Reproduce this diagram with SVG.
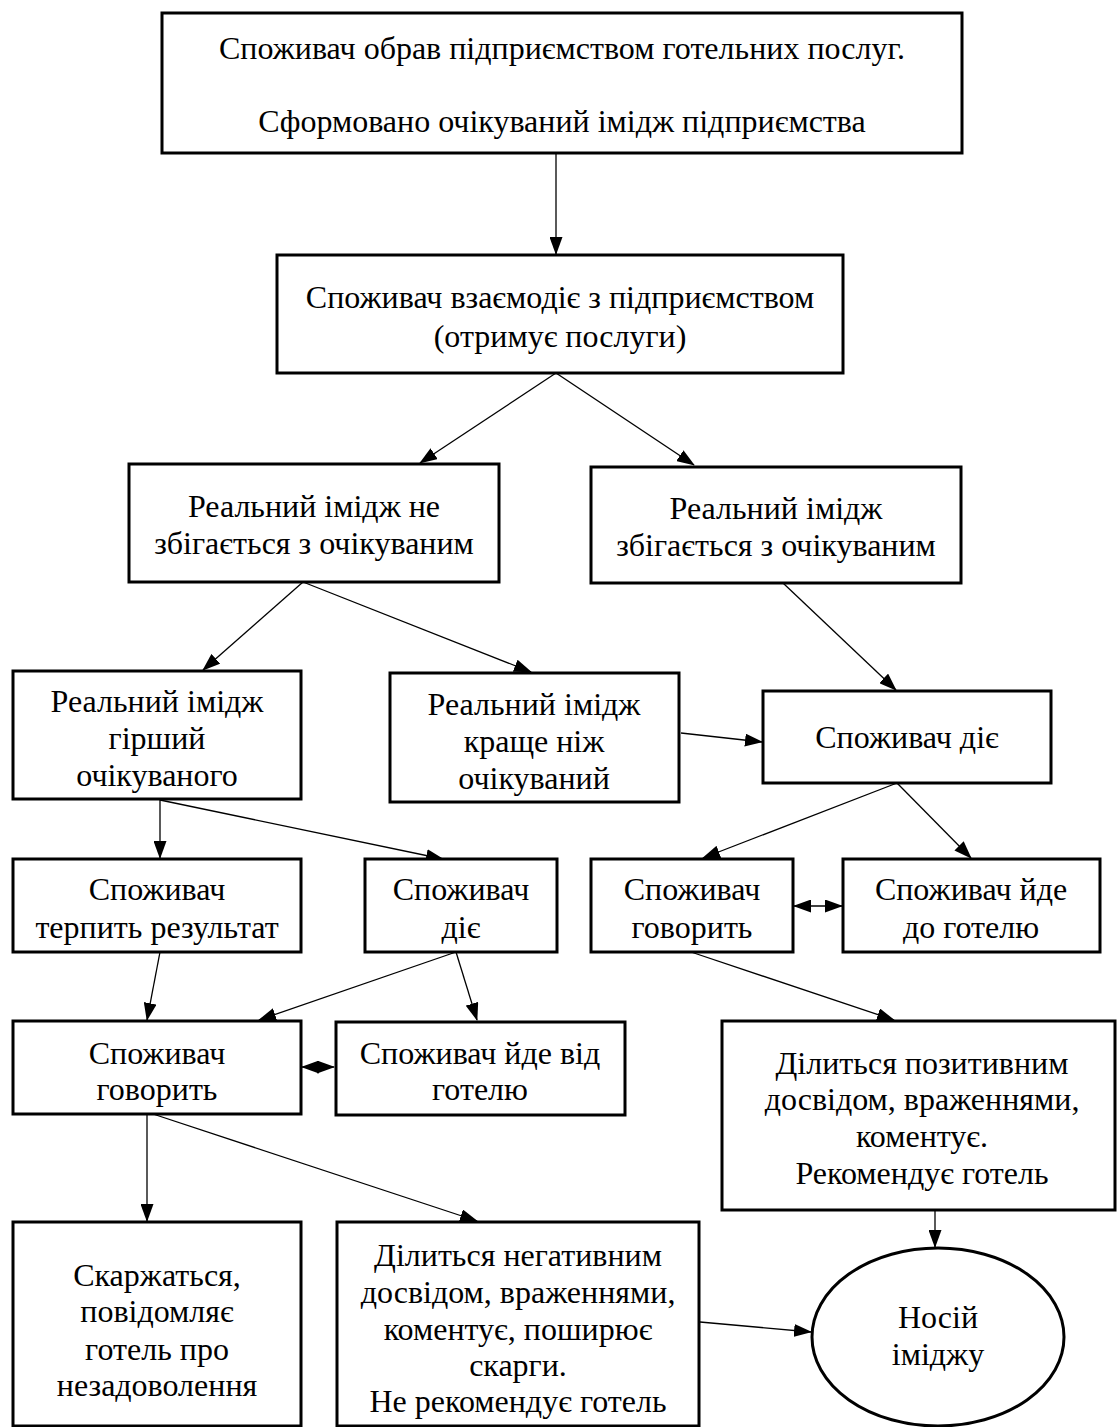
<svg xmlns="http://www.w3.org/2000/svg" width="1117" height="1427" viewBox="0 0 1117 1427">
<style>
.box{fill:#fff;stroke:#000;stroke-width:3}
.t{font-family:"Liberation Serif","Times New Roman",serif;font-size:32px;fill:#000;text-anchor:middle}
.c{stroke:#000;stroke-width:1.3;fill:none;marker-end:url(#ah)}
.d{stroke:#000;stroke-width:1.3;fill:none;marker-end:url(#ah);marker-start:url(#ah)}
</style>
<defs>
<marker id="ah" markerUnits="userSpaceOnUse" markerWidth="18" markerHeight="13" refX="17" refY="6.5" orient="auto-start-reverse" viewBox="0 0 18 13">
<path d="M0,0 L18,6.5 L0,13 z" fill="#000"/>
</marker>
</defs>
<rect width="1117" height="1427" fill="#fff"/>
<g id="connectors">
<line class="c" x1="556" y1="153" x2="556" y2="254"/>
<line class="c" x1="556" y1="373" x2="420" y2="463"/>
<line class="c" x1="556" y1="373" x2="694" y2="465"/>
<line class="c" x1="303" y1="582" x2="203" y2="670"/>
<line class="c" x1="303" y1="582" x2="531" y2="672"/>
<line class="c" x1="783" y1="583" x2="896" y2="690"/>
<line class="c" x1="681" y1="733" x2="762" y2="742"/>
<line class="c" x1="160" y1="800" x2="160" y2="858"/>
<line class="c" x1="160" y1="800" x2="443" y2="859"/>
<line class="c" x1="897" y1="783" x2="703" y2="858"/>
<line class="c" x1="897" y1="783" x2="971" y2="858"/>
<line class="d" x1="794" y1="906" x2="842" y2="906"/>
<line class="c" x1="160" y1="952" x2="147" y2="1020"/>
<line class="c" x1="456" y1="952" x2="259" y2="1020"/>
<line class="c" x1="456" y1="952" x2="477" y2="1020"/>
<line class="d" x1="302" y1="1067" x2="334" y2="1067"/>
<line class="c" x1="691" y1="952" x2="894" y2="1020"/>
<line class="c" x1="935" y1="1210" x2="935" y2="1247"/>
<line class="c" x1="147" y1="1114" x2="147" y2="1221"/>
<line class="c" x1="153" y1="1114" x2="477" y2="1221"/>
<line class="c" x1="700" y1="1322" x2="811" y2="1332"/>
</g>
<g id="n1"><rect class="box" x="162" y="13" width="800" height="140"/>
<text class="t" x="562" y="59">Споживач обрав підприємством готельних послуг.</text>
<text class="t" x="562" y="132">Сформовано очікуваний імідж підприємства</text></g>
<g id="n2"><rect class="box" x="277" y="255" width="566" height="118"/>
<text class="t" x="560" y="308">Споживач взаємодіє з підприємством</text>
<text class="t" x="560" y="347">(отримує послуги)</text></g>
<g id="n3"><rect class="box" x="129" y="464" width="370" height="118"/>
<text class="t" x="314" y="517">Реальний імідж не</text>
<text class="t" x="314" y="554">збігається з очікуваним</text></g>
<g id="n4"><rect class="box" x="591" y="467" width="370" height="116"/>
<text class="t" x="776" y="519">Реальний імідж</text>
<text class="t" x="776" y="556">збігається з очікуваним</text></g>
<g id="n5"><rect class="box" x="13" y="671" width="288" height="128"/>
<text class="t" x="157" y="712">Реальний імідж</text>
<text class="t" x="157" y="749">гірший</text>
<text class="t" x="157" y="786">очікуваного</text></g>
<g id="n6"><rect class="box" x="390" y="673" width="289" height="129"/>
<text class="t" x="534" y="715">Реальний імідж</text>
<text class="t" x="534" y="752">краще ніж</text>
<text class="t" x="534" y="789">очікуваний</text></g>
<g id="n7"><rect class="box" x="763" y="691" width="288" height="92"/>
<text class="t" x="907" y="748">Споживач діє</text></g>
<g id="n8"><rect class="box" x="13" y="859" width="288" height="93"/>
<text class="t" x="157" y="900">Споживач</text>
<text class="t" x="157" y="938">терпить результат</text></g>
<g id="n9"><rect class="box" x="365" y="859" width="192" height="93"/>
<text class="t" x="461" y="900">Споживач</text>
<text class="t" x="461" y="938">діє</text></g>
<g id="n10"><rect class="box" x="591" y="859" width="202" height="93"/>
<text class="t" x="692" y="900">Споживач</text>
<text class="t" x="692" y="938">говорить</text></g>
<g id="n11"><rect class="box" x="843" y="859" width="257" height="93"/>
<text class="t" x="971" y="900">Споживач йде</text>
<text class="t" x="971" y="938">до готелю</text></g>
<g id="n12"><rect class="box" x="13" y="1021" width="288" height="93"/>
<text class="t" x="157" y="1064">Споживач</text>
<text class="t" x="157" y="1100">говорить</text></g>
<g id="n13"><rect class="box" x="336" y="1022" width="289" height="93"/>
<text class="t" x="480" y="1064">Споживач йде від</text>
<text class="t" x="480" y="1100">готелю</text></g>
<g id="n14"><rect class="box" x="722" y="1021" width="393" height="189"/>
<text class="t" x="922" y="1074">Ділиться позитивним</text>
<text class="t" x="922" y="1110">досвідом, враженнями,</text>
<text class="t" x="922" y="1147">коментує.</text>
<text class="t" x="922" y="1184">Рекомендує готель</text></g>
<g id="n15"><rect class="box" x="13" y="1222" width="288" height="204"/>
<text class="t" x="157" y="1286">Скаржаться,</text>
<text class="t" x="157" y="1322">повідомляє</text>
<text class="t" x="157" y="1360">готель про</text>
<text class="t" x="157" y="1396">незадоволення</text></g>
<g id="n16"><rect class="box" x="337" y="1222" width="362" height="204"/>
<text class="t" x="518" y="1266">Ділиться негативним</text>
<text class="t" x="518" y="1303">досвідом, враженнями,</text>
<text class="t" x="518" y="1340">коментує, поширює</text>
<text class="t" x="518" y="1376">скарги.</text>
<text class="t" x="518" y="1412">Не рекомендує готель</text></g>
<g id="n17"><ellipse class="box" cx="938" cy="1337" rx="126" ry="89"/>
<text class="t" x="938" y="1328">Носій</text>
<text class="t" x="938" y="1365">іміджу</text></g>
</svg>
